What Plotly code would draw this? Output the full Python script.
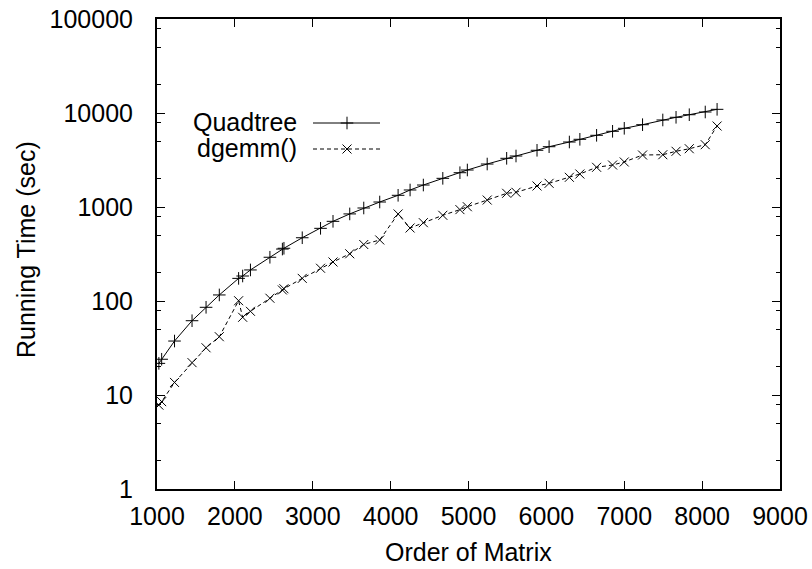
import plotly.graph_objects as go

# ---- data ----
matrix_order = [1024, 1060, 1225, 1450, 1630, 1800, 2048, 2100, 2200, 2450,
                2610, 2630, 2865, 3100, 3260, 3475, 3655, 3860, 4096, 4250,
                4420, 4670, 4890, 4985, 5240, 5490, 5610, 5880, 6035, 6295,
                6430, 6645, 6850, 7000, 7235, 7495, 7665, 7835, 8040, 8192]
quadtree_time = [21.7, 24.0, 37.5, 61.7, 85.7, 116, 174, 184.5, 214, 292,
                 357, 364, 471, 593, 704, 844, 976, 1130, 1332, 1517,
                 1713, 2018, 2316, 2475, 2866, 3296, 3488, 4011, 4379, 4913,
                 5250, 5790, 6385, 6874, 7510, 8430, 9000, 9590, 10250, 10940]
dgemm_time = [7.8, 8.5, 13.6, 22.1, 31.8, 41.7, 100.7, 67.1, 77.7, 107,
              131, 135, 174, 223, 260, 318, 399, 446, 843, 598,
              681, 816, 938, 1007, 1186, 1399, 1433, 1673, 1786, 2070,
              2244, 2644, 2798, 3013, 3573, 3598, 3914, 4168, 4600, 7270]

series_names = ["Quadtree", "dgemm()"]
x_tick_vals = [1000, 2000, 3000, 4000, 5000, 6000, 7000, 8000, 9000]
y_tick_vals = [1, 10, 100, 1000, 10000, 100000]
y_tick_text = ["1", "10", "100", "1000", "10000", "100000"]
y_minor_vals = [m * d for d in [1, 10, 100, 1000, 10000] for m in (2, 5, 8)]

FONT = "Liberation Sans, Arial, Helvetica, sans-serif"
FS = 25

W, H = 812, 569
ML, MR, MT, MB = 157, 32, 19, 80
PW, PH = W - ML - MR, H - MT - MB

fig = go.Figure()

styles = [
    dict(dash="solid", symbol="cross-thin-open"),
    dict(dash="4px,3px", symbol="x-thin-open"),
]
for name, ys, st in zip(series_names, [quadtree_time, dgemm_time], styles):
    fig.add_trace(go.Scatter(
        x=matrix_order, y=ys, mode="lines+markers", name=name,
        line=dict(color="black", width=1, dash=st["dash"]),
        marker=dict(symbol=st["symbol"], size=9, color="black",
                    line=dict(color="black", width=1)),
        showlegend=False,
    ))

# legend (gnuplot style: text right-aligned, sample line to the right)
leg_y = [(489 - 123) / PH, (489 - 149) / PH]
for name, st, yy in zip(series_names, styles, leg_y):
    fig.add_trace(go.Scatter(
        x=[(313 - ML) / PW, (380 - ML) / PW], y=[yy, yy], xaxis="x2", yaxis="y2",
        mode="lines", line=dict(color="black", width=1, dash=st["dash"]),
        showlegend=False, hoverinfo="skip"))
    fig.add_trace(go.Scatter(
        x=[(347 - ML) / PW], y=[yy], xaxis="x2", yaxis="y2", mode="markers",
        marker=dict(symbol=st["symbol"], size=9, color="black",
                    line=dict(color="black", width=1)),
        showlegend=False, hoverinfo="skip"))
    fig.add_annotation(x=(298 - ML) / PW, y=yy + 1 / PH, xref="paper", yref="paper",
                       text=name, showarrow=False, xanchor="right",
                       yanchor="middle", borderpad=0,
                       font=dict(family=FONT, size=FS, color="black"))

axis_common = dict(
    showline=True, linecolor="black", linewidth=2, mirror="ticks",
    ticks="inside", ticklen=8, tickwidth=1, tickcolor="black",
    showgrid=False, zeroline=False, automargin=False,
    tickfont=dict(family=FONT, size=FS, color="black"),
)

fig.update_layout(
    width=W, height=H,
    margin=dict(l=ML, r=MR, t=MT, b=MB, autoexpand=False),
    paper_bgcolor="white", plot_bgcolor="white",
    showlegend=False,
    xaxis=dict(range=[1000, 9000], tickvals=x_tick_vals,
               ticklabelstandoff=4,
               **axis_common),
    yaxis=dict(type="log", range=[0, 5], tickvals=y_tick_vals, ticktext=y_tick_text,
               ticklabelstandoff=17,
               minor=dict(tickvals=y_minor_vals, ticks="inside", ticklen=4,
                          tickwidth=1, tickcolor="black", showgrid=False),
               **axis_common),
    xaxis2=dict(overlaying="x", range=[0, 1], visible=False),
    yaxis2=dict(overlaying="y", range=[0, 1], visible=False),
)

# axis titles placed as in the reference
fig.add_annotation(x=0.5, y=-(552 - 489) / PH, xref="paper", yref="paper",
                   text="Order of Matrix", showarrow=False,
                   xanchor="center", yanchor="middle",
                   font=dict(family=FONT, size=FS, color="black"))
fig.add_annotation(x=(26 - ML) / PW, y=(489 - 250) / PH, xref="paper", yref="paper",
                   text="Running Time (sec)", showarrow=False, textangle=-90,
                   xanchor="center", yanchor="middle",
                   font=dict(family=FONT, size=FS, color="black"))

fig.write_html("out.html")
